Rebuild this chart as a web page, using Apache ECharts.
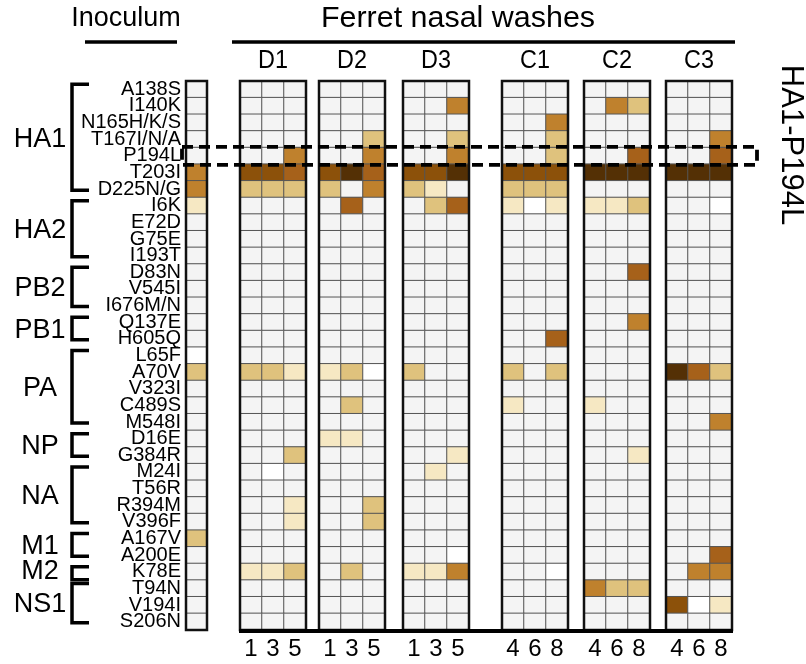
<!DOCTYPE html>
<html><head><meta charset="utf-8">
<script src="https://cdn.jsdelivr.net/npm/echarts@6/dist/echarts.min.js"></script>
<style>html,body{margin:0;padding:0;background:#fff}#c{width:806px;height:664px}</style>
</head><body><div id="c"></div>
<script>
// ---- data ----
const rows = ['A138S','I140K','N165H/K/S','T167I/N/A','P194L','T203I','D225N/G','I6K','E72D','G75E','I193T','D83N','V545I','I676M/N','Q137E','H605Q','L65F','A70V','V323I','C489S','M548I','D16E','G384R','M24I','T56R','R394M','V396F','A167V','A200E','K78E','T94N','V194I','S206N'];
const genes = [['HA1',0,6],['HA2',7,10],['PB2',11,13],['PB1',14,15],['PA',16,20],['NP',21,22],['NA',23,26],['M1',27,28],['M2',29,29],['NS1',30,32]];
const groupNames = ['D1','D2','D3','C1','C2','C3'];
const donorDays = ['1','3','5'];
const contactDays = ['4','6','8'];
// levels: -1 white (no data), 0 absent, 1..6 increasing frequency
const inoculum = [0,0,0,0,0,3,3,1,0,0,0,0,0,0,0,0,-1,2,0,0,0,0,0,0,0,0,0,2,0,0,0,0,0];
// sparse non-zero entries per animal: {row: [day cols]}
const D1 = {4:[0,0,3],5:[5,5,4],6:[2,2,2],17:[2,2,1],22:[0,0,2],23:[0,-1,0],25:[0,0,1],26:[0,0,1],29:[1,1,2]};
const D2 = {3:[0,0,2],4:[0,0,3],5:[5,6,4],6:[2,0,3],7:[0,4,0],17:[1,2,-1],19:[0,2,0],21:[1,1,0],25:[0,0,2],26:[0,0,2],29:[0,2,0]};
const D3 = {1:[0,0,3],3:[0,0,2],4:[0,0,3],5:[5,5,6],6:[2,1,0],7:[0,2,4],17:[2,0,0],22:[0,0,1],23:[0,1,0],28:[0,0,-1],29:[1,1,3]};
const C1 = {2:[0,0,3],3:[0,0,2],4:[0,0,2],5:[5,5,5],6:[2,2,2],7:[1,-1,1],15:[0,0,4],17:[2,0,2],19:[1,0,0],29:[0,0,-1]};
const C2 = {1:[0,3,2],4:[0,0,4],5:[6,6,6],7:[1,1,2],11:[0,0,4],14:[0,0,3],19:[1,0,0],22:[0,0,1],30:[3,2,2]};
const C3 = {3:[0,0,3],4:[0,0,4],5:[6,6,6],7:[0,0,-1],17:[6,4,2],20:[0,0,3],28:[0,0,4],29:[0,3,3],31:[5,-1,1]};
const animals = [D1,D2,D3,C1,C2,C3];
const levelColors = {'-1':'#ffffff','0':'#f4f4f4','1':'#f6e8c3','2':'#dfc27d','3':'#bf812d','4':'#a6611a','5':'#8c510a','6':'#543005'};

// ---- layout ----
const TOP = 81, H = 549;
const lefts = [186,240,319,403,502,584,666];
const widths = [21,66,66,66,66,66,66];
const rowH = H / rows.length;
const FONT = '"Liberation Sans", Arial, sans-serif';

const grids = [], xAxes = [], yAxes = [], series = [];
for (let g = 0; g < 7; g++) {
  grids.push({left: lefts[g], top: TOP, width: widths[g], height: H, show: false});
  const cats = g === 0 ? ['I'] : (g <= 3 ? donorDays : contactDays);
  xAxes.push({type:'category', gridIndex:g, data:cats, axisLine:{show:false}, axisTick:{show:false},
    axisLabel:{show:g>0, interval:0, fontSize:24, color:'#000', margin:7, fontFamily:FONT}, splitLine:{show:false}});
  yAxes.push({type:'category', gridIndex:g, data:rows, inverse:true, axisLine:{show:false}, axisTick:{show:false},
    axisLabel:{show:g===0, interval:0, hideOverlap:false, fontSize:20, color:'#000', margin:5, fontFamily:FONT, lineHeight:16}, splitLine:{show:false}});
  const data = [];
  for (let r = 0; r < rows.length; r++) {
    if (g === 0) data.push([0, r, inoculum[r]]);
    else {
      const v = animals[g-1][r] || [0,0,0];
      for (let c = 0; c < 3; c++) data.push([c, r, v[c]]);
    }
  }
  series.push({type:'heatmap', xAxisIndex:g, yAxisIndex:g, data:data, silent:true,
    itemStyle:{borderColor:'#555555', borderWidth:1}, emphasis:{disabled:true}});
}

const graphics = [];
for (let g = 0; g < 7; g++) {
  graphics.push({type:'rect', z:100, shape:{x:lefts[g], y:TOP, width:widths[g], height:H},
    style:{fill:null, stroke:'#111', lineWidth:2.5}});
}
graphics.push({type:'line', z:101, shape:{x1:lefts[1]-1, y1:TOP+H+1, x2:lefts[6]+widths[6]+1, y2:TOP+H+1}, style:{stroke:'#000', lineWidth:4}});
graphics.push({type:'text', x:126, y:19, style:{text:'Inoculum', font:'27px '+FONT, fill:'#000', textAlign:'center', textVerticalAlign:'middle'}});
graphics.push({type:'line', shape:{x1:85, y1:42, x2:177, y2:42}, style:{stroke:'#000', lineWidth:3.5}});
graphics.push({type:'text', x:458, y:19, scaleX:1.05, style:{text:'Ferret nasal washes', font:'29px '+FONT, fill:'#000', textAlign:'center', textVerticalAlign:'middle'}});
graphics.push({type:'line', shape:{x1:232, y1:42, x2:735, y2:42}, style:{stroke:'#000', lineWidth:3.5}});
for (let g = 1; g < 7; g++) {
  const cx = lefts[g] + widths[g]/2;
  graphics.push({type:'text', x:cx, y:61, scaleX:0.9, style:{text:groupNames[g-1], font:'26px '+FONT, fill:'#000', textAlign:'center', textVerticalAlign:'middle'}});
}
genes.forEach(([name, a, b]) => {
  const y1 = TOP + (a+0.5)*rowH - 5;
  let y2 = TOP + (b+0.5)*rowH + 1;
  if (a === b) y2 = y1 + 13;
  graphics.push({type:'polyline', shape:{points:[[89,y1],[72,y1],[72,y2],[89,y2]]}, style:{stroke:'#000', lineWidth:3.5, fill:null}});
  const yc = TOP + ((a+b)/2 + 0.5)*rowH;
  graphics.push({type:'text', x:40, y:yc, style:{text:name, font:'27px '+FONT, fill:'#000', textAlign:'center', textVerticalAlign:'middle'}});
});
const pr = rows.indexOf('P194L');
const yc4 = TOP + (pr+0.5)*rowH;
graphics.push({type:'rect', z:110, shape:{x:182, y:yc4-9, width:575, height:18}, style:{fill:null, stroke:'#000', lineWidth:3.8, lineDash:[11,6]}});
graphics.push({type:'text', x:791, y:145, rotation:-Math.PI/2, style:{text:'HA1-P194L', font:'31px '+FONT, fill:'#000', textAlign:'center', textVerticalAlign:'middle'}});

const chart = echarts.init(document.getElementById('c'), null, {renderer:'canvas'});
chart.setOption({
  animation:false,
  backgroundColor:'#fff',
  grid:grids, xAxis:xAxes, yAxis:yAxes,
  visualMap:{type:'piecewise', show:false, dimension:2,
    pieces:Object.keys(levelColors).map(k => ({value:+k, color:levelColors[k]}))},
  series:series,
  graphic:graphics
});
</script></body></html>
